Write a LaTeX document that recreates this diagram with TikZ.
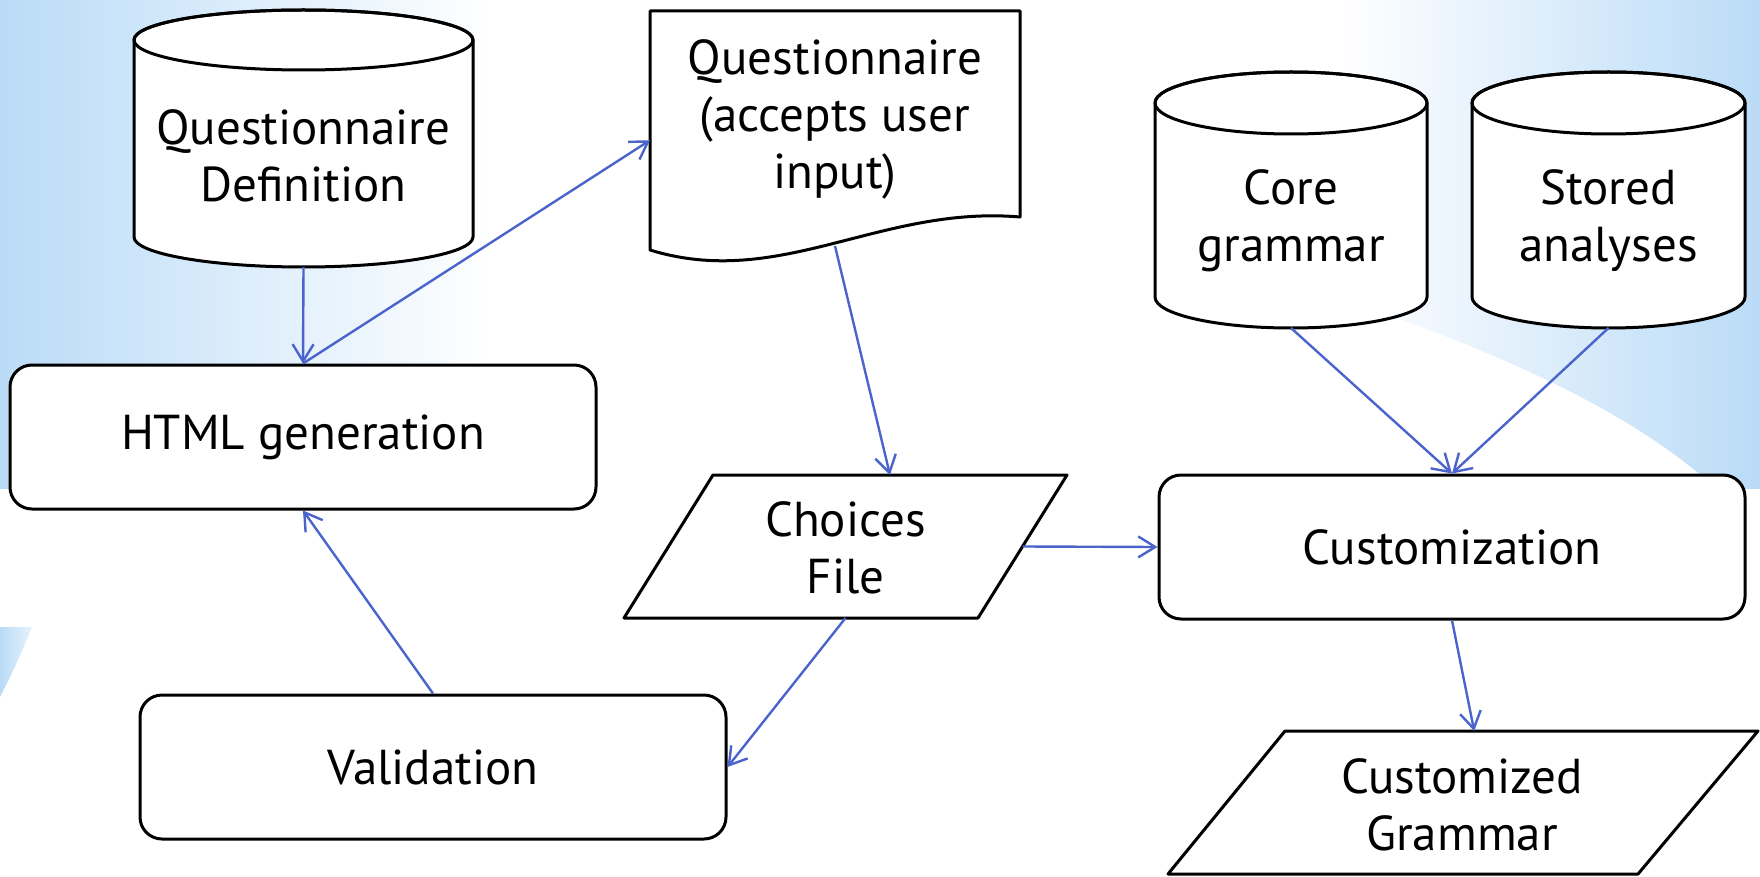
\documentclass[tikz,border=0pt]{standalone}
\usepackage{fontspec}
\setmainfont{PT Sans}
\usetikzlibrary{arrows.meta,calc}
\definecolor{bgblue}{RGB}{186,219,247}
\colorlet{bgpale}{bgblue!35}
\definecolor{arrowblue}{RGB}{74,100,204}
\pgfdeclarehorizontalshading{bandshade}{100bp}{color(0bp)=(bgblue); color(25bp)=(bgblue); color(39bp)=(white); color(63bp)=(white); color(75bp)=(bgblue); color(100bp)=(bgblue)}
\pgfdeclarehorizontalshading{slivershade}{100bp}{color(0bp)=(bgblue); color(25bp)=(bgblue); color(75bp)=(bgpale); color(100bp)=(bgpale)}
\newcommand\mycyl[3]{%
  \filldraw[shapeline] ($(#1.north west)+(0,#3)$) -- ($(#1.south west)+(0,-#3)$)
    arc[start angle=180,end angle=0,x radius=#2,y radius=#3]
    -- ($(#1.north east)+(0,#3)$)
    arc[start angle=0,end angle=-180,x radius=#2,y radius=#3] -- cycle;
  \draw[shapeline,fill=none] ($(#1.north)+(0,#3)$) ellipse[x radius=#2,y radius=#3];
}
\begin{document}
\begin{tikzpicture}[x=0.5pt,y=-0.5pt,
  shapeline/.style={draw=black,line width=1.5pt,fill=white,line join=round},
  txt/.style={font=\fontsize{24.5pt}{28.5pt}\selectfont},
  procbox/.style={shapeline,txt,rounded corners=11pt,minimum width=293pt,minimum height=72pt,inner sep=0pt},
  ghost/.style={inner sep=0pt,outer sep=0pt},
  lbl/.style={txt,align=center,inner sep=0pt},
  conn/.style={draw=arrowblue,line width=1.2pt,-{Straight Barb[length=8.5pt,width=10.5pt]}}]
\useasboundingbox (0,0) rectangle (1760,877);
% background
\begin{scope}
\clip (0,0) rectangle (1760,877);
\shade[shading=bandshade] (0,0) rectangle (1760,488);
\fill[white] (1250,270) .. controls (1450,330) and (1620,400) .. (1715,488) -- (1250,488) -- cycle;
\shade[shading=slivershade] (0,627) -- (32,627) .. controls (22,652) and (10,678) .. (0,697) -- cycle;
\end{scope}
% Questionnaire Definition (cylinder)
\node[ghost,minimum width=169.5pt,minimum height=128.5pt] (qd) at (303.5,138.5) {};
\mycyl{qd}{169.5}{30}
\node[lbl] (qdt) at (303.5,156) {Questionnaire\\Definition};
% Questionnaire document
\node[ghost,minimum width=185pt,minimum height=117.5pt] (doc) at (835,128.5) {};
\filldraw[shapeline] (doc.north west) -- (doc.north east) -- ($(doc.south east)+(0,-29)$)
  .. controls ($(doc.south east)+(-140,-41)$) and ($(doc.south east)+(-240,44)$) .. ($(doc.south west)+(0,4)$) -- cycle;
\node[lbl] (doct) at (835,119) {Questionnaire\\(accepts user\\input)};
% Core grammar, Stored analyses
\node[ghost,minimum width=136pt,minimum height=128pt] (core) at (1291,200) {};
\mycyl{core}{136}{31}
\node[lbl] (coret) at (1291,221) {Core\\grammar};
\node[ghost,minimum width=136.5pt,minimum height=128pt] (stored) at (1608.5,200) {};
\mycyl{stored}{136.5}{31}
\node[lbl] (storedt) at (1608.5,221) {Stored\\analyses};
% process boxes
\node[procbox] (html) at (303,437) {HTML generation};
\node[procbox] (val) at (433,767) {Validation};
\node[procbox] (custom) at (1452,547) {Customization};
% Choices File
\coordinate (chTL) at (713,475);
\coordinate (chTR) at (1067,475);
\coordinate (chBR) at (978,618);
\coordinate (chBL) at (624,618);
\filldraw[shapeline] (chTL) -- (chTR) -- (chBR) -- (chBL) -- cycle;
\node[lbl] (ch) at (845.5,548) {Choices\\File};
% Customized Grammar
\coordinate (cgTL) at (1285,731);
\coordinate (cgTR) at (1758,731);
\coordinate (cgBR) at (1638,874);
\coordinate (cgBL) at (1168,874);
\filldraw[shapeline] (cgTL) -- (cgTR) -- (cgBR) -- (cgBL) -- cycle;
\node[lbl] (cg) at (1462,805) {Customized\\Grammar};
% connectors
\draw[conn] (qd.south) -- (html.north);
\draw[conn] (html.north) -- ($(doc.north west)!0.55!(doc.south west)$);
\draw[conn] (doc.south) -- ($(chTL)!0.5!(chTR)$);
\draw[conn] ($(chTR)!0.5!(chBR)$) -- (custom.west);
\draw[conn] (ch |- chBL) -- (val.east);
\draw[conn] (val.north) -- (html.south);
\draw[conn] (core.south) -- (custom.north);
\draw[conn] (stored.south) -- (custom.north);
\draw[conn] (custom.south) -- ($(cgTL)!0.4!(cgTR)$);
\end{tikzpicture}
\end{document}
